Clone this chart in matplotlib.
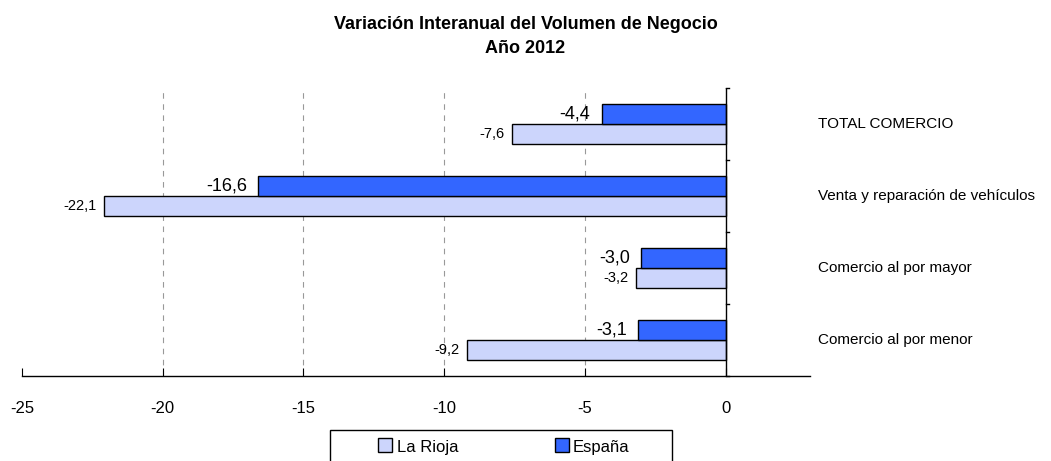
import matplotlib
matplotlib.use("Agg")
import matplotlib.pyplot as plt
from matplotlib.patches import Rectangle
import numpy as np

plt.rcParams['font.family'] = ['Liberation Sans', 'DejaVu Sans']

# datos
categorias = ["TOTAL COMERCIO", "Venta y reparación de vehículos",
              "Comercio al por mayor", "Comercio al por menor"]
la_rioja = [-7.6, -22.1, -3.2, -9.2]
espana = [-4.4, -16.6, -3.0, -3.1]
ticks_x = [-25, -20, -15, -10, -5, 0]

fig = plt.figure(figsize=(10.51, 4.61), dpi=100)
ax = fig.add_axes([22/1051, 1-376/461, (810-22)/1051, (376-88)/461])

y = np.arange(len(categorias))
h = 0.28
c_rioja = "#ccd5fc"
c_esp = "#3366ff"

ax.barh(y + h/2, la_rioja, height=h, color=c_rioja, edgecolor="black", linewidth=1, label="La Rioja", zorder=3)
ax.barh(y - h/2, espana, height=h, color=c_esp, edgecolor="black", linewidth=1, label="España", zorder=3)

for i in range(len(categorias)):
    ax.text(la_rioja[i] - 0.25, y[i] + h/2, f"{la_rioja[i]:.1f}".replace(".", ","),
            ha="right", va="center", fontsize=10.5)
    ax.text(espana[i] - 0.4, y[i] - h/2, f"{espana[i]:.1f}".replace(".", ","),
            ha="right", va="center", fontsize=13)
    ax.text(3.3, y[i], categorias[i], ha="left", va="center", fontsize=11,
            clip_on=False)

ax.set_xlim(-25, 3)
ax.set_ylim(len(categorias) - 0.5, -0.5)

for s in ["left", "top", "right"]:
    ax.spines[s].set_visible(False)
ax.spines["bottom"].set_linewidth(1)

# eje vertical en 0
ax.axvline(0, color="black", linewidth=1, zorder=4)
for b in np.arange(-0.5, len(categorias), 1.0):
    ax.plot([0, 0.12], [b, b], color="black", linewidth=1, clip_on=False, zorder=4)

for t in ticks_x[1:-1]:
    ax.axvline(t, color="#999999", linestyle=(0, (5, 5)), linewidth=0.8, zorder=1)

ax.set_xticks(ticks_x)
ax.set_xticklabels([str(t) for t in ticks_x], fontsize=12)
ax.tick_params(axis="x", direction="in", length=6, pad=18)
ax.set_yticks([])

fig.suptitle("Variación Interanual del Volumen de Negocio\nAño 2012",
             fontsize=13, fontweight="bold", y=0.965, x=0.5, linespacing=1.55)

handles, labels = ax.get_legend_handles_labels()
leg = fig.legend(handles, labels, loc="center", bbox_to_anchor=(504/1051, 1-447/461),
                 ncol=2, frameon=False, fontsize=12,
                 handlelength=0.8, handleheight=0.8, columnspacing=5.8, borderpad=0.4,
                 handletextpad=0.3, borderaxespad=0)
for p in leg.get_patches():
    p.set_height(10)
    p.set_width(10)

# marco de la leyenda (cortado por abajo como en el original)
fig.patches.append(Rectangle((330/1051, -0.05), (672-330)/1051, 0.05 + 1-430/461,
                             transform=fig.transFigure, fill=False,
                             edgecolor="black", linewidth=1))

fig.savefig("out.png", dpi=100)
